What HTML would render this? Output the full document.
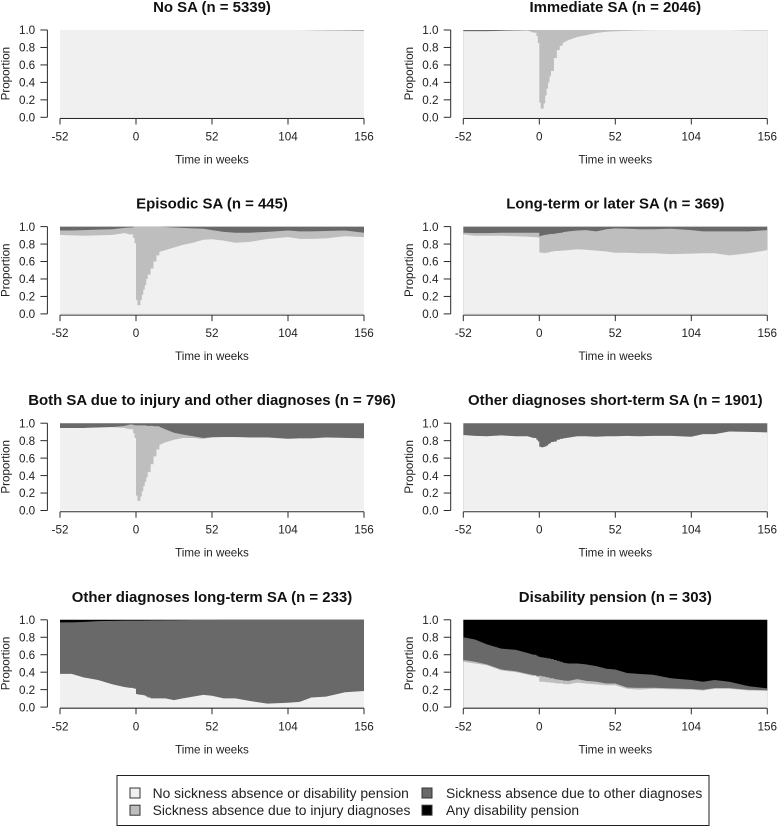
<!DOCTYPE html>
<html lang="en">
<head>
<meta charset="utf-8">
<title>Sickness absence trajectories</title>
<style>
html,body{margin:0;padding:0;background:#fff;}
#chart{display:block;width:777px;height:827px;font-family:"Liberation Sans",Arial,sans-serif;filter:blur(0.3px);}
text{fill:#222;}
</style>
</head>
<body>
<svg id="chart" xmlns="http://www.w3.org/2000/svg" width="777" height="827" viewBox="0 0 777 827"></svg>
<script>
const weeks = [-52,-44,-36,-26,-16,-8,-4,-2,-1,0,1,2,3,4,5,6,7,8,10,12,14,16,20,26,32,39,46,52,60,68,78,90,104,112,120,130,143,156];
const xTickLabels = [-52,0,52,104,156];
const yTickLabels = [0,0.2,0.4,0.6,0.8,1];
const allZero = [0,0,0,0,0,0,0,0,0,0,0,0,0,0,0,0,0,0,0,0,0,0,0,0,0,0,0,0,0,0,0,0,0,0,0,0,0,0];

const noSaNone = [1,1,1,1,1,1,1,1,1,1,1,1,1,1,1,1,1,1,1,1,1,1,1,1,1,1,1,1,1,1,1,1,1,1,.998,.997,.996,.995];
const noSaOther = [0,0,0,0,0,0,0,0,0,0,0,0,0,0,0,0,0,0,0,0,0,0,0,0,0,0,0,0,0,0,0,0,0,0,.002,.003,.004,.005];

const immediateNone = [.985,.985,.985,.99,.995,.995,.97,.93,.85,.17,.10,.10,.16,.25,.33,.40,.47,.53,.68,.77,.82,.85,.885,.92,.94,.965,.98,.985,.99,.995,.998,1,1,1,1,1,.995,.995];
const immediateInjury = [0,0,0,0,0,.003,.03,.07,.15,.83,.90,.90,.84,.75,.67,.60,.53,.47,.32,.23,.18,.15,.115,.08,.06,.035,.02,.015,.01,.005,.002,0,0,0,0,0,.005,.005];
const immediateOther = [.015,.015,.015,.01,.005,.002,0,0,0,0,0,0,0,0,0,0,0,0,0,0,0,0,0,0,0,0,0,0,0,0,0,0,0,0,0,0,0,0];

const episodicNone = [.905,.90,.895,.90,.905,.925,.91,.87,.81,.16,.10,.10,.16,.22,.28,.33,.40,.45,.52,.60,.67,.71,.73,.76,.79,.815,.85,.855,.84,.815,.825,.86,.88,.86,.86,.865,.89,.88];
const episodicInjury = [.05,.055,.065,.065,.065,.06,.08,.125,.19,.84,.90,.90,.84,.78,.72,.67,.60,.55,.48,.40,.33,.29,.265,.23,.195,.165,.125,.105,.10,.115,.105,.08,.075,.085,.085,.085,.065,.05];
const episodicOther = [.045,.045,.04,.035,.03,.015,.01,.005,0,0,0,0,0,0,0,0,0,0,0,0,0,0,.005,.01,.015,.02,.025,.04,.06,.07,.07,.06,.045,.055,.055,.05,.045,.07];

const longTermNone = [.91,.895,.895,.895,.89,.885,.88,.878,.875,.705,.70,.70,.695,.70,.70,.705,.71,.715,.72,.72,.725,.725,.73,.74,.735,.725,.715,.70,.70,.695,.695,.685,.69,.695,.695,.67,.695,.73];
const longTermInjury = [.02,.03,.03,.035,.04,.045,.05,.052,.055,.185,.195,.20,.21,.205,.21,.205,.205,.20,.20,.205,.205,.21,.215,.215,.225,.22,.255,.28,.275,.275,.275,.29,.27,.25,.25,.275,.25,.23];
const longTermOther = [.07,.075,.075,.07,.07,.07,.07,.07,.07,.11,.105,.10,.095,.095,.09,.09,.085,.085,.08,.075,.07,.065,.055,.045,.04,.055,.03,.02,.025,.03,.03,.025,.04,.055,.055,.055,.055,.04];

const bothNone = [.945,.945,.945,.95,.955,.945,.93,.885,.83,.17,.11,.11,.16,.22,.28,.33,.38,.44,.53,.62,.70,.75,.78,.81,.83,.83,.82,.835,.84,.84,.835,.835,.82,.825,.825,.835,.83,.825];
const bothInjury = [0,0,0,0,0,.025,.055,.095,.145,.805,.865,.865,.815,.755,.695,.645,.59,.53,.44,.345,.265,.21,.15,.08,.04,.02,.01,.005,.002,.002,.002,.002,.002,.002,.002,.002,.002,.002];
const bothOther = [.055,.055,.055,.05,.045,.03,.015,.02,.025,.025,.025,.025,.025,.025,.025,.025,.03,.03,.03,.035,.035,.04,.07,.11,.13,.15,.17,.16,.158,.158,.163,.163,.178,.173,.173,.163,.168,.173];

const shortTermNone = [.865,.855,.85,.86,.85,.85,.83,.81,.79,.73,.725,.725,.73,.735,.745,.76,.77,.785,.79,.81,.82,.825,.835,.85,.85,.845,.85,.85,.855,.85,.855,.855,.845,.875,.875,.905,.90,.895];
const shortTermOther = [.135,.145,.15,.14,.15,.15,.17,.19,.21,.27,.275,.275,.27,.265,.255,.24,.23,.215,.21,.19,.18,.175,.165,.15,.15,.155,.15,.15,.145,.15,.145,.145,.155,.125,.125,.095,.10,.105];

const otherLongNone = [.38,.38,.34,.31,.26,.23,.22,.215,.21,.15,.145,.145,.14,.14,.135,.13,.12,.11,.10,.10,.10,.10,.10,.08,.10,.12,.14,.13,.10,.10,.07,.04,.05,.06,.11,.12,.17,.185];
const otherLongOther = [.59,.59,.635,.675,.728,.76,.77,.775,.78,.84,.845,.845,.85,.85,.857,.862,.872,.882,.893,.893,.893,.894,.895,.915,.896,.877,.858,.868,.90,.90,.93,.96,.95,.94,.89,.88,.83,.815];
const otherLongPension = [.03,.03,.025,.015,.012,.01,.01,.01,.01,.01,.01,.01,.01,.01,.008,.008,.008,.008,.007,.007,.007,.006,.005,.005,.004,.003,.002,.002,0,0,0,0,0,0,0,0,0,0];

const pensionNone = [.52,.50,.48,.42,.40,.37,.355,.345,.34,.29,.29,.29,.29,.285,.285,.285,.28,.28,.275,.27,.27,.265,.26,.28,.27,.26,.25,.25,.21,.20,.21,.205,.20,.19,.21,.21,.19,.185];
const pensionInjury = [.02,.02,.01,.01,.01,.01,.012,.012,.015,.07,.065,.06,.06,.06,.055,.055,.05,.05,.045,.045,.04,.04,.04,.04,.03,.03,.02,.02,.015,.02,.012,.01,.008,.008,.008,.008,.008,.008];
const pensionOther = [.26,.255,.23,.24,.245,.24,.233,.233,.225,.215,.215,.22,.215,.22,.22,.22,.225,.22,.22,.215,.21,.205,.20,.18,.19,.18,.17,.16,.165,.16,.148,.115,.102,.092,.092,.072,.042,.022];
const pensionPension = [.20,.225,.28,.33,.345,.38,.40,.41,.42,.425,.43,.43,.435,.435,.44,.44,.445,.45,.46,.47,.48,.49,.50,.50,.51,.53,.56,.57,.61,.62,.63,.67,.69,.71,.69,.71,.76,.785];

const panelTitles = ["No SA (n = 5339)","Immediate SA (n = 2046)","Episodic SA (n = 445)","Long-term or later SA (n = 369)","Both SA due to injury and other diagnoses (n = 796)","Other diagnoses short-term SA (n = 1901)","Other diagnoses long-term SA (n = 233)","Disability pension (n = 303)"];
const panelSeries = [
  [noSaNone, allZero, noSaOther, allZero],
  [immediateNone, immediateInjury, immediateOther, allZero],
  [episodicNone, episodicInjury, episodicOther, allZero],
  [longTermNone, longTermInjury, longTermOther, allZero],
  [bothNone, bothInjury, bothOther, allZero],
  [shortTermNone, allZero, shortTermOther, allZero],
  [otherLongNone, allZero, otherLongOther, otherLongPension],
  [pensionNone, pensionInjury, pensionOther, pensionPension]
];
const stateNames = ["none","injury","other","pension"];
const stateColors = ["#f0f0f0","#bebebe","#696969","#000000"];
const legendLabels = ["No sickness absence or disability pension","Sickness absence due to injury diagnoses","Sickness absence due to other diagnoses","Any disability pension"];

const svg = document.getElementById('chart');
const NS = 'http://www.w3.org/2000/svg';
const AXIS = '#2a2a2a';

function make(tag, attrs, parent, txt) {
  const el = document.createElementNS(NS, tag);
  for (const k in attrs) el.setAttribute(k, attrs[k]);
  if (txt !== undefined) el.textContent = txt;
  parent.appendChild(el);
  return el;
}

function slug(s) {
  return s.toLowerCase().replace(/\(.*\)/, '').trim().replace(/[^a-z0-9]+/g, '-');
}

function drawPanel(i) {
  const col = i % 2;
  const row = Math.floor(i / 2);
  const left = 60 + 403.3 * col;
  const top = 30 + 196.6 * row;
  const plotW = 304;
  const plotH = 87.3;
  const xScale = w => left + (w + 52) * plotW / 208;
  const yScale = p => top + plotH * (1 - p);
  const base = slug(panelTitles[i]);

  const g = make('g', {}, svg);
  
  

  const title = make('text', {x: left + plotW / 2, y: top - 18, 'text-anchor': 'middle', 'font-size': 14.95, 'font-weight': 'bold', style: 'fill:#111'}, g, panelTitles[i]);
  
  

  // Stacked areas, painted from the top state down so no seams show.
  const series = panelSeries[i];
  for (let k = 3; k >= 0; k--) {
    const uppers = weeks.map((w, j) => {
      let sum = 0;
      for (let m = 0; m <= k; m++) sum += series[m][j];
      return sum;
    });
    const hasArea = series[k].some(v => v > 0);
    if (!hasArea) continue;
    const pts = [];
    weeks.forEach((w, j) => {
      // Closely spaced weekly readings are held as steps; sparse readings are joined directly.
      if (j > 0 && w - weeks[j - 1] <= 2) {
        pts.push(xScale(w).toFixed(2) + ',' + yScale(uppers[j - 1]).toFixed(2));
      }
      pts.push(xScale(w).toFixed(2) + ',' + yScale(uppers[j]).toFixed(2));
    });
    pts.push(xScale(weeks[weeks.length - 1]).toFixed(2) + ',' + yScale(0).toFixed(2));
    pts.push(xScale(weeks[0]).toFixed(2) + ',' + yScale(0).toFixed(2));
    const area = make('polygon', {points: pts.join(' '), fill: stateColors[k]}, g);
    
    
  }

  // Y axis
  const yAxisX = left - 12.6;
  const yLine = make('line', {x1: yAxisX, x2: yAxisX, y1: yScale(0), y2: yScale(1), stroke: AXIS, 'stroke-width': 1}, g);
  
  
  yTickLabels.forEach(v => {
    const tick = make('line', {x1: yAxisX - 7, x2: yAxisX, y1: yScale(v), y2: yScale(v), stroke: AXIS, 'stroke-width': 1}, g);
    
    
    const lab = make('text', {x: yAxisX - 12.2, y: yScale(v) + 4.2, 'text-anchor': 'end', 'font-size': 11.7}, g, v.toFixed(1));
    
    
  });
  const yTitleX = left - 50.5;
  const yTitleY = top + plotH / 2;
  const yTitle = make('text', {x: yTitleX, y: yTitleY, 'text-anchor': 'middle', 'font-size': 11.6, transform: 'rotate(-90 ' + yTitleX + ' ' + yTitleY + ')'}, g, 'Proportion');
  
  

  // X axis
  const xAxisY = yScale(0) + 1.2;
  const xLine = make('line', {x1: xScale(-52), x2: xScale(156), y1: xAxisY, y2: xAxisY, stroke: AXIS, 'stroke-width': 1}, g);
  
  
  xTickLabels.forEach(v => {
    const tick = make('line', {x1: xScale(v), x2: xScale(v), y1: xAxisY, y2: xAxisY + 6, stroke: AXIS, 'stroke-width': 1}, g);
    
    
    const lab = make('text', {x: xScale(v), y: top + 110.5, 'text-anchor': 'middle', 'font-size': 11.7}, g, String(v));
    
    
  });
  const xTitle = make('text', {x: left + plotW / 2, y: top + 133.5, 'text-anchor': 'middle', 'font-size': 11.6}, g, 'Time in weeks');
  
  
}

function drawLegend() {
  const g = make('g', {}, svg);
  
  
  const box = make('rect', {x: 117, y: 775.5, width: 592, height: 50, fill: '#fff', stroke: '#222', 'stroke-width': 1}, g);
  
  
  legendLabels.forEach((label, idx) => {
    const cx = idx < 2 ? 0 : 1;
    const rw = idx % 2;
    const swatchX = cx === 0 ? 130 : 422;
    const textX = cx === 0 ? 152.6 : 446;
    const rowY = 793 + rw * 17.2;
    const sw = make('rect', {x: swatchX, y: rowY - 5, width: 10, height: 10, fill: stateColors[idx], stroke: '#333', 'stroke-width': 1}, g);
    
    
    const tx = make('text', {x: textX, y: rowY + 4.8, 'font-size': 13.85}, g, label);
    
    
  });
}

panelTitles.forEach((t, i) => drawPanel(i));
drawLegend();
</script>
</body>
</html>
